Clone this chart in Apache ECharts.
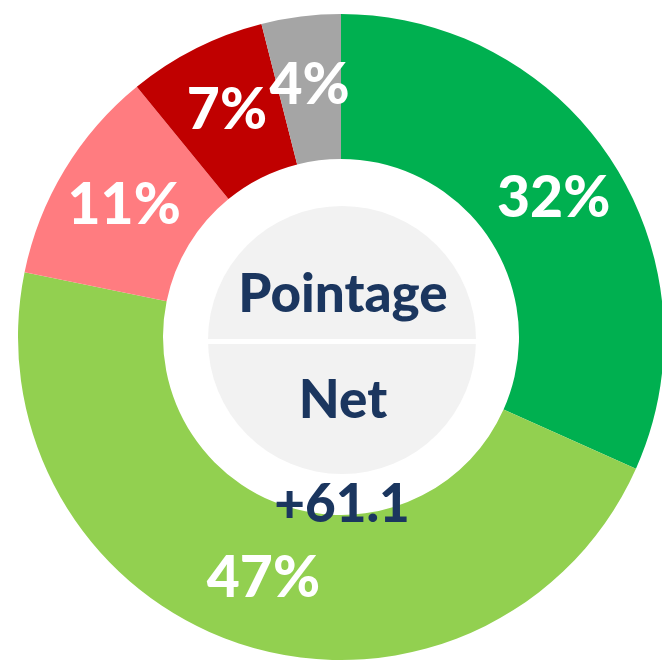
<!DOCTYPE html>
<html>
<head>
<meta charset="utf-8">
<title>Pointage Net</title>
<script src="https://cdn.jsdelivr.net/npm/echarts@6/dist/echarts.min.js"></script>
<style>
  html, body { margin: 0; padding: 0; background: #ffffff; }
  #chart { width: 662px; height: 660px; }
</style>
</head>
<body>
<div id="chart"></div>
<script>
// Share of each category, clockwise from twelve o'clock
const categories = ['Catégorie A', 'Catégorie B', 'Catégorie C', 'Catégorie D', 'Catégorie E'];
const shares = [32, 47, 11, 7, 4];
const colors = ['#00B050', '#92D050', '#FF7C80', '#C00000', '#A5A5A5'];

// Centre text
const centerTitle = ['Pointage', 'Net'];
const netScore = '+61.1';

const FONT = 'Lato, "Liberation Sans", sans-serif';
const NAVY = '#1B365F';
const CX = 341, CY = 337;

const chart = echarts.init(document.getElementById('chart'), null, { renderer: 'canvas' });

chart.setOption({
  animation: false,
  backgroundColor: '#ffffff',
  series: [{
    type: 'pie',
    center: [CX, CY],
    radius: [178, 323],
    startAngle: 90,
    clockwise: true,
    avoidLabelOverlap: false,
    silent: true,
    itemStyle: { borderWidth: 0 },
    label: {
      show: true,
      position: 'inside',
      formatter: '{c}%',
      color: '#ffffff',
      fontFamily: FONT,
      fontWeight: 900,
      fontSize: 57
    },
    labelLine: { show: false },
    data: categories.map((name, i) => ({
      name,
      value: shares[i],
      itemStyle: { color: colors[i] }
    }))
  }],
  graphic: [
    {
      type: 'circle',
      z: 0,
      shape: { cx: CX + 1, cy: CY + 3, r: 134 },
      style: { fill: '#F2F2F2' }
    },
    {
      type: 'rect',
      z: 1,
      shape: { x: CX - 140, y: CY + 2, width: 280, height: 5 },
      style: { fill: '#ffffff' }
    },
    {
      type: 'text',
      z: 100,
      style: {
        text: centerTitle[0], x: CX + 2, y: 295,
        align: 'center', verticalAlign: 'middle',
        fontFamily: FONT, fontWeight: 900, fontSize: 53, fill: NAVY
      }
    },
    {
      type: 'text',
      z: 100,
      style: {
        text: centerTitle[1], x: CX + 2, y: 401,
        align: 'center', verticalAlign: 'middle',
        fontFamily: FONT, fontWeight: 900, fontSize: 53, fill: NAVY
      }
    },
    {
      type: 'text',
      z: 100,
      style: {
        text: netScore, x: CX + 1, y: 505,
        align: 'center', verticalAlign: 'middle',
        fontFamily: FONT, fontWeight: 900, fontSize: 53, fill: NAVY
      }
    }
  ]
});
</script>
</body>
</html>
